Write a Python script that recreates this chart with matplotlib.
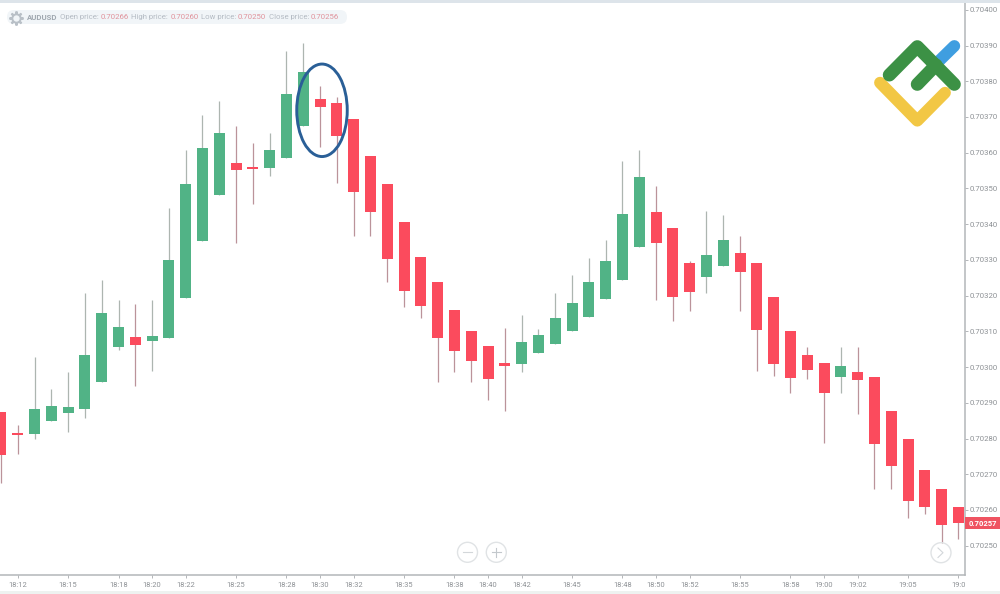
import matplotlib
matplotlib.use("Agg")
import matplotlib.pyplot as plt
from matplotlib.patches import Ellipse, Circle, FancyBboxPatch, Rectangle
import numpy as np

plt.rcParams["font.family"] = ["Roboto", "DejaVu Sans"]

# AUDUSD one minute candles
opens = [0.702874, 0.702815, 0.702813, 0.702850, 0.702871, 0.702882, 0.702958, 0.703056, 0.703083, 0.703074,
         0.703081, 0.703192, 0.703353, 0.703483, 0.703570, 0.703561, 0.703558, 0.703584, 0.703674, 0.703750,
         0.703739, 0.703693, 0.703591, 0.703512, 0.703407, 0.703309, 0.703239, 0.703159, 0.703102, 0.703059,
         0.703012, 0.703008, 0.703040, 0.703065, 0.703101, 0.703141, 0.703190, 0.703244, 0.703337, 0.703434,
         0.703390, 0.703292, 0.703252, 0.703284, 0.703319, 0.703291, 0.703197, 0.703102, 0.703034, 0.703012,
         0.702971, 0.702985, 0.702973, 0.702878, 0.702799, 0.702711, 0.702659, 0.702608]
highs = [0.702874, 0.702838, 0.703028, 0.702938, 0.702986, 0.703207, 0.703245, 0.703188, 0.703176, 0.703188,
         0.703445, 0.703607, 0.703706, 0.703745, 0.703675, 0.703626, 0.703656, 0.703885, 0.703906, 0.703786,
         0.703756, 0.703693, 0.703591, 0.703512, 0.703407, 0.703309, 0.703239, 0.703159, 0.703102, 0.703059,
         0.703108, 0.703146, 0.703106, 0.703207, 0.703257, 0.703306, 0.703356, 0.703577, 0.703607, 0.703507,
         0.703390, 0.703298, 0.703437, 0.703426, 0.703367, 0.703291, 0.703197, 0.703102, 0.703057, 0.703012,
         0.703057, 0.703057, 0.702973, 0.702878, 0.702799, 0.702711, 0.702659, 0.702608]
lows = [0.702675, 0.702757, 0.702798, 0.702850, 0.702819, 0.702858, 0.702958, 0.703048, 0.702948, 0.702988,
        0.703081, 0.703192, 0.703353, 0.703483, 0.703346, 0.703456, 0.703535, 0.703584, 0.703674, 0.703617,
        0.703516, 0.703367, 0.703367, 0.703237, 0.703167, 0.703138, 0.702958, 0.702987, 0.702958, 0.702908,
        0.702878, 0.702987, 0.703040, 0.703065, 0.703101, 0.703141, 0.703190, 0.703244, 0.703337, 0.703188,
        0.703129, 0.703156, 0.703208, 0.703284, 0.703156, 0.702989, 0.702975, 0.702927, 0.702967, 0.702787,
        0.702927, 0.702868, 0.702658, 0.702658, 0.702577, 0.702589, 0.702507, 0.702518]
closes = [0.702754, 0.702810, 0.702884, 0.702892, 0.702889, 0.703034, 0.703152, 0.703112, 0.703062, 0.703087,
          0.703301, 0.703511, 0.703613, 0.703656, 0.703551, 0.703554, 0.703608, 0.703763, 0.703826, 0.703729,
          0.703647, 0.703490, 0.703435, 0.703302, 0.703214, 0.703171, 0.703081, 0.703045, 0.703018, 0.702966,
          0.703003, 0.703071, 0.703090, 0.703137, 0.703179, 0.703239, 0.703297, 0.703429, 0.703532, 0.703348,
          0.703196, 0.703210, 0.703313, 0.703356, 0.703265, 0.703103, 0.703008, 0.702968, 0.702991, 0.702927,
          0.703002, 0.702964, 0.702784, 0.702723, 0.702624, 0.702608, 0.702559, 0.702563]

time_ticks = [1, 4, 7, 9, 11, 14, 17, 19, 21, 24, 27, 29, 31, 34, 37, 39, 41, 44, 47, 49, 51, 54, 57]
time_labels = ["18:12", "18:15", "18:18", "18:20", "18:22", "18:25", "18:28", "18:30", "18:32", "18:35",
               "18:38", "18:40", "18:42", "18:45", "18:48", "18:50", "18:52", "18:55", "18:58", "19:00",
               "19:02", "19:05", "19:0"]
price_ticks = [0.7025, 0.7026, 0.7027, 0.7028, 0.7029, 0.7030, 0.7031, 0.7032,
               0.7033, 0.7034, 0.7035, 0.7036, 0.7037, 0.7038, 0.7039, 0.7040]

GREEN = "#51b386"
RED = "#fb4b5d"
AXIS = "#b3b6b9"
TICK_TEXT = "#8d9195"

opens = np.array(opens)
highs = np.array(highs)
lows = np.array(lows)
closes = np.array(closes)
x = np.arange(len(opens))
up = closes >= opens

fig = plt.figure(figsize=(10, 5.94), dpi=100, facecolor="white")
ax = fig.add_axes([0, 19 / 594, 964.5 / 1000, 572 / 594])

ax.vlines(x[up], lows[up], highs[up], color="#adb5b0", linewidth=0.9, zorder=1)
ax.vlines(x[~up], lows[~up], highs[~up], color="#bb939a", linewidth=0.9, zorder=1)
ax.bar(x, np.abs(closes - opens), bottom=np.minimum(opens, closes), width=0.655,
       color=np.where(up, GREEN, RED), zorder=2)

ax.set_xlim(-0.054, 57.36)
ax.set_ylim(0.702418, 0.704019)
for side in ["top", "left"]:
    ax.spines[side].set_visible(False)
for side in ["right", "bottom"]:
    ax.spines[side].set_color(AXIS)
    ax.spines[side].set_linewidth(1.1)
ax.yaxis.tick_right()
ax.set_yticks(price_ticks)
ax.set_yticklabels(["%.5f" % p for p in price_ticks], fontsize=5.6, color=TICK_TEXT)
ax.set_xticks(time_ticks)
ax.set_xticklabels(time_labels, fontsize=5.4, color=TICK_TEXT)
ax.tick_params(axis="both", length=2, width=0.7, color=AXIS, pad=2)
ax.tick_params(axis="x", pad=3)

# overlay in pixel coordinates for header, logo and buttons
deco = fig.add_axes([0, 0, 1, 1], facecolor="none")
deco.set_xlim(0, 1000)
deco.set_ylim(594, 0)
deco.axis("off")

deco.add_patch(Rectangle((0, 0), 1000, 2.5, color="#dde4ea", lw=0))
deco.add_patch(Rectangle((0, 591), 1000, 3, color="#eef2f0", lw=0))

# circled candles
deco.add_patch(Ellipse((322, 110.3), 50.5, 92.5, fill=False, edgecolor="#2a5f97", linewidth=2.1))

# header
deco.add_patch(FancyBboxPatch((7, 10), 340, 14, boxstyle="round,pad=0,rounding_size=7",
                              facecolor="#f1f5f8", edgecolor="none"))
deco.plot([15.5], [17.5], marker=(8, 2, 0), ms=10, mew=1.6, color="#b9c0c7")
deco.plot([15.5], [17.5], marker="o", ms=6, mfc="#f1f5f8", mec="#b9c0c7", mew=1.4)

label_c = "#b4bbc3"
value_c = "#e0929b"
header = [(27.3, "AUDUSD", "#a0a8b0", "bold"), (60, "Open price:", label_c, "normal"),
          (101, "0.70266", value_c, "normal"), (131.3, "High price:", label_c, "normal"),
          (170.3, "0.70260", value_c, "normal"), (200.7, "Low price:", label_c, "normal"),
          (238, "0.70250", value_c, "normal"), (268.7, "Close price:", label_c, "normal"),
          (311, "0.70256", value_c, "normal")]
for hx, txt, c, w in header:
    deco.text(hx, 17, txt, fontsize=5.6, color=c, fontweight=w, va="center", ha="left")

# logo
deco.plot([940, 954.3], [60, 46], color="#3f9ee0", lw=8.5, solid_capstyle="round")
deco.plot([880, 917.3, 945], [82.7, 120.7, 92.7], color="#f2c744", lw=8.5,
          solid_capstyle="round", solid_joinstyle="round")
deco.plot([889.3, 917.3, 954.3], [75, 46.7, 84.3], color="#3c9145", lw=9.4,
          solid_capstyle="round", solid_joinstyle="round")
deco.plot([917.3, 936], [84.3, 65], color="#3c9145", lw=9.4, solid_capstyle="round")

# price tag
deco.add_patch(Rectangle((965, 517.3), 35, 11.5, color="#ef5361", lw=0))
deco.text(969, 523.2, "0.70257", fontsize=5.5, color="white", fontweight="bold", va="center", ha="left")

# zoom and scroll buttons
for cx, cy in [(467.5, 552.3), (496.3, 552.3), (941, 552.7)]:
    deco.add_patch(Circle((cx, cy), 10, fill=False, edgecolor="#e0e3e5", linewidth=1))
deco.plot([463, 472], [552.3, 552.3], color="#d3d7da", lw=0.8)
deco.plot([492, 501], [552.3, 552.3], color="#c3c8cc", lw=0.8)
deco.plot([496.3, 496.3], [548, 557], color="#c3c8cc", lw=0.8)
deco.plot([938, 943, 938], [548, 552.7, 557.5], color="#d3d7da", lw=0.8)

fig.savefig("out.png", dpi=100)
plt.close(fig)
